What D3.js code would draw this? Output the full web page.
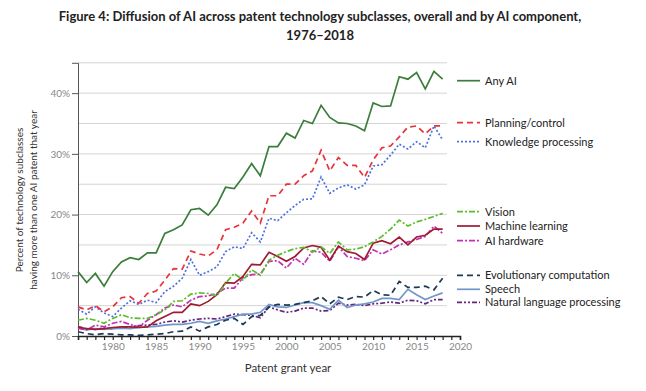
<html>

<head>
  <script src="https://cdnjs.cloudflare.com/ajax/libs/d3/7.8.5/d3.min.js" type="text/JavaScript"></script>
  <style>
    body { margin: 0; background: #fff; }
    text { font-family: Lato, "Open Sans", sans-serif; }
  </style>
</head>

<body>
  <svg id="chart" width="646" height="391"></svg>

  <script>
    // years 1976 - 2018, values in percent
    var years = d3.range(1976, 2019);
    var xTicks = [1980, 1985, 1990, 1995, 2000, 2005, 2010, 2015, 2020];
    var yTicks = [0, 10, 20, 30, 40];

    var anyAI = [10.6, 8.8, 10.3, 8.2, 10.6, 12.2, 12.9, 12.6, 13.7, 13.7,
      16.9, 17.5, 18.3, 20.8, 21.0, 19.9, 21.6, 24.5, 24.3, 26.2,
      28.4, 26.4, 31.2, 31.2, 33.4, 32.6, 35.5, 35.0, 38.0, 36.0,
      35.1, 35.0, 34.6, 33.8, 38.4, 37.8, 37.9, 42.7, 42.3, 43.4,
      40.7, 43.6, 42.3];
    var planning = [4.8, 4.3, 5.0, 4.0, 4.8, 6.3, 6.5, 5.4, 7.0, 7.4,
      9.2, 11.1, 11.0, 14.0, 13.5, 13.2, 14.2, 17.5, 17.9, 18.6,
      20.6, 18.6, 23.1, 23.1, 25.0, 25.0, 26.4, 27.2, 30.6, 27.2,
      29.4, 28.1, 28.1, 26.1, 29.0, 31.0, 31.3, 32.8, 34.4, 34.6,
      33.3, 34.6, 34.6];
    var knowledge = [4.4, 3.6, 4.8, 3.8, 3.2, 4.6, 5.8, 5.2, 5.9, 5.5,
      7.3, 8.2, 9.5, 12.6, 10.0, 10.6, 11.4, 13.9, 14.7, 14.4,
      17.0, 15.5, 19.4, 19.0, 20.3, 21.5, 22.5, 22.6, 26.2, 23.5,
      24.4, 24.9, 24.2, 24.9, 28.0, 28.2, 29.8, 31.6, 30.8, 32.0,
      31.0, 34.6, 32.3];
    var vision = [2.6, 2.9, 2.6, 2.1, 2.9, 3.5, 3.0, 2.9, 2.9, 3.5,
      4.3, 5.7, 5.8, 6.9, 7.1, 7.0, 6.6, 8.7, 10.3, 9.2,
      10.9, 10.0, 12.5, 13.3, 13.9, 14.4, 14.6, 13.8, 14.7, 13.6,
      15.5, 14.2, 14.3, 14.7, 15.5, 16.4, 17.6, 19.1, 18.1, 18.8,
      19.2, 19.7, 20.2];
    var machineLearning = [1.5, 1.2, 1.1, 1.2, 1.4, 1.5, 1.5, 1.4, 1.5, 2.5,
      3.2, 3.9, 3.9, 5.3, 5.0, 5.7, 6.8, 8.8, 8.7, 9.8,
      11.8, 11.7, 13.8, 13.1, 12.3, 13.1, 14.5, 14.9, 14.6, 12.5,
      14.8, 13.9, 13.6, 12.6, 15.3, 15.7, 15.2, 16.3, 15.0, 16.3,
      16.6, 17.6, 17.6];
    var hardware = [1.3, 1.0, 1.8, 1.5, 2.1, 2.4, 1.9, 1.5, 2.6, 3.5,
      4.6, 5.1, 4.8, 5.9, 6.5, 6.6, 7.0, 7.9, 7.9, 9.6,
      10.1, 10.2, 12.3, 12.4, 11.2, 12.8, 11.8, 14.0, 13.8, 12.3,
      14.7, 13.1, 12.8, 12.4, 14.2, 13.5, 14.2, 15.0, 15.5, 15.9,
      16.4, 18.1, 16.9];
    var evolutionary = [0.7, 0.4, 0.2, 0.4, 0.3, 0.2, 0.2, 0.1, 0.2, 0.3,
      0.4, 0.7, 0.8, 1.5, 0.8, 1.5, 1.9, 2.6, 2.9, 1.9,
      3.2, 3.4, 4.8, 5.2, 5.1, 5.2, 5.5, 5.8, 6.5, 5.3,
      6.4, 6.0, 6.5, 6.4, 7.5, 6.8, 6.7, 9.0, 8.0, 8.0,
      8.2, 7.6, 9.5];
    var speech = [1.3, 1.0, 1.2, 1.1, 1.2, 1.3, 1.2, 1.4, 1.5, 1.6,
      1.8, 1.9, 1.9, 2.1, 2.4, 2.1, 2.5, 2.8, 3.2, 3.6,
      3.6, 3.9, 5.2, 4.8, 4.7, 5.1, 5.5, 5.5, 5.0, 4.4,
      5.9, 4.7, 5.1, 5.3, 5.6, 6.2, 6.2, 6.0, 7.7, 6.8,
      6.0, 6.6, 7.1];
    var nlp = [1.5, 1.2, 1.1, 1.3, 1.2, 1.4, 1.5, 1.7, 1.8, 1.9,
      2.3, 2.5, 2.3, 2.6, 2.8, 2.9, 2.8, 3.2, 3.6, 3.5,
      3.4, 3.0, 4.8, 4.3, 3.9, 4.1, 4.6, 4.6, 4.1, 4.2,
      5.4, 5.1, 5.2, 5.0, 5.3, 5.4, 5.6, 5.4, 5.9, 5.8,
      5.3, 6.0, 6.0];

    var series = [
      { name: "Any AI", values: anyAI, color: "#3b7d3b", dash: null, ly: 80.7 },
      { name: "Planning/control", values: planning, color: "#e8333b", dash: "6,4", ly: 122.7 },
      { name: "Knowledge processing", values: knowledge, color: "#4d72de", dash: "2,2", ly: 141.7 },
      { name: "Vision", values: vision, color: "#5cbd2b", dash: "6,2,2,2", ly: 211.7 },
      { name: "Machine learning", values: machineLearning, color: "#9e1b32", dash: null, ly: 226 },
      { name: "AI hardware", values: hardware, color: "#c42fb6", dash: "6,2,2,2", ly: 240.7 },
      { name: "Evolutionary computation", values: evolutionary, color: "#1e3957", dash: "6,4", ly: 275.3 },
      { name: "Speech", values: speech, color: "#6f97cb", dash: null, ly: 289.3 },
      { name: "Natural language processing", values: nlp, color: "#65257f", dash: "5,2,2,2,2,2", ly: 302.3 }
    ];

    var svg = d3.select("#chart");
    var x = d3.scaleLinear().domain([1976, 2020]).range([78, 460]);
    var y = d3.scaleLinear().domain([0, 45]).range([336, 62.8]);

    // title
    svg.append("text").attr("x", 320).attr("y", 21)
      .attr("text-anchor", "middle").style("font-size", "13px").style("font-weight", "bold")
      .attr("fill", "#222")
      .text("Figure 4: Diffusion of AI across patent technology subclasses, overall and by AI component,");
    svg.append("text").attr("x", 320).attr("y", 40)
      .attr("text-anchor", "middle").style("font-size", "13px").style("font-weight", "bold")
      .attr("fill", "#222")
      .text("1976\u20132018");

    // gridlines every 5%
    svg.append("g").selectAll("line")
      .data(d3.range(5, 50, 5))
      .enter().append("line")
      .attr("x1", x(1976)).attr("x2", 447)
      .attr("y1", d => y(d)).attr("y2", d => y(d))
      .attr("stroke", "#d4d4d4").attr("stroke-width", 1);

    // axes
    var yAxis = svg.append("g").attr("transform", "translate(" + x(1976) + ",0)")
      .call(d3.axisLeft(y).tickValues(yTicks).tickSize(6).tickPadding(2).tickFormat(d => d + "%"));
    yAxis.select(".domain").attr("stroke", "#555");
    yAxis.selectAll(".tick line").attr("stroke", "#555");
    yAxis.selectAll("text").attr("fill", "#888").style("font-size", "10px");

    var xAxis = svg.append("g").attr("transform", "translate(0," + y(0) + ")")
      .call(d3.axisBottom(x).tickValues(d3.range(1976, 2021)).tickSize(4).tickPadding(3)
        .tickFormat(d => xTicks.indexOf(d) >= 0 ? d : ""));
    xAxis.select(".domain").attr("stroke", "#222").attr("stroke-width", 1.5);
    xAxis.selectAll(".tick line").attr("stroke", "#222").attr("stroke-width", 1.2);
    xAxis.selectAll("text").attr("fill", "#888").style("font-size", "10px");

    // axis titles
    svg.append("text").attr("x", 288).attr("y", 372).attr("text-anchor", "middle")
      .style("font-size", "11.5px").attr("fill", "#333").text("Patent grant year");
    svg.append("text").attr("transform", "translate(23,200) rotate(-90)").attr("text-anchor", "middle")
      .style("font-size", "10px").attr("fill", "#333")
      .text("Percent of technology subclasses");
    svg.append("text").attr("transform", "translate(37,200) rotate(-90)").attr("text-anchor", "middle")
      .style("font-size", "10px").attr("fill", "#333")
      .text("having more than one AI patent that year");

    // lines
    var line = d3.line().x((d, i) => x(years[i])).y(d => y(d));
    svg.append("g").selectAll("path")
      .data(series.slice().reverse())
      .enter().append("path")
      .attr("d", d => line(d.values))
      .attr("fill", "none")
      .attr("stroke", d => d.color)
      .attr("stroke-width", 1.7)
      .attr("stroke-dasharray", d => d.dash);

    // legend
    var legend = svg.append("g").selectAll("g")
      .data(series)
      .enter().append("g")
      .attr("transform", d => "translate(457," + d.ly + ")");
    legend.append("line").attr("x1", 0).attr("x2", 23)
      .attr("stroke", d => d.color).attr("stroke-width", 1.7)
      .attr("stroke-dasharray", d => d.dash);
    legend.append("text").attr("x", 28).attr("dy", "0.35em")
      .style("font-size", "11px").attr("fill", "#222")
      .text(d => d.name);
  </script>
</body>

</html>
